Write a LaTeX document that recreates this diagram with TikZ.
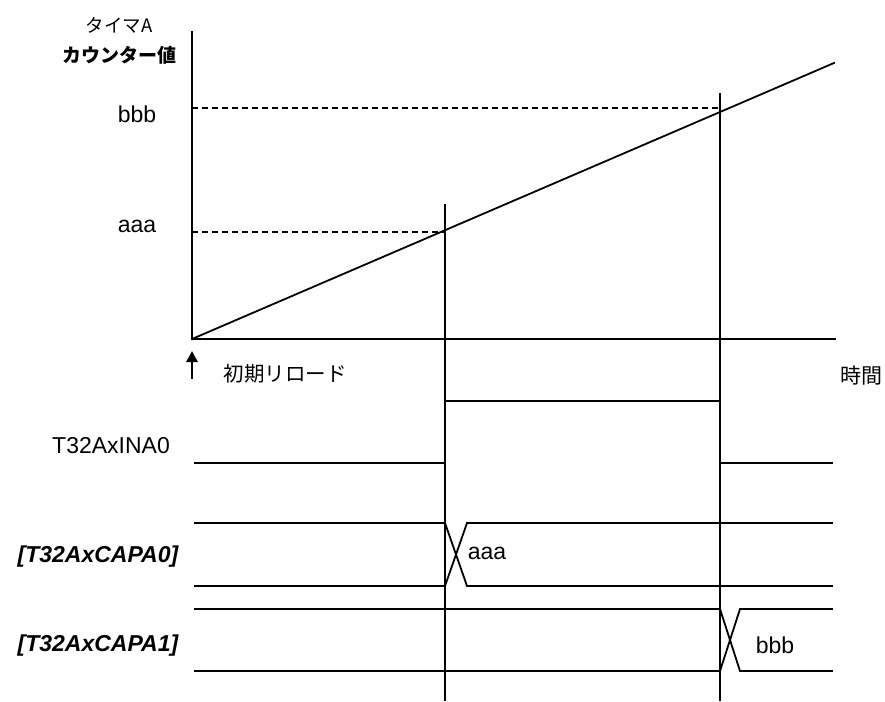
\documentclass[tikz,border=0pt]{standalone}
\usepackage{fontspec}
\setmainfont{Liberation Sans}
\newfontfamily\cjk{Noto Sans CJK JP}
\usetikzlibrary{arrows.meta}
\tikzset{
  ln/.style={line width=1.8pt, line cap=rect},
  dsh/.style={line width=1.5pt, dash pattern=on 6pt off 4pt},
  lat/.style={inner sep=0pt, font=\fontsize{23}{27}\selectfont},
  latbi/.style={inner sep=0pt, font=\fontsize{23}{27}\selectfont\bfseries\itshape},
  jp/.style={inner sep=0pt, font=\fontsize{18.5}{22}\selectfont\cjk},
}
\begin{document}
\begin{tikzpicture}[x=1pt,y=-1pt]
\useasboundingbox (0,0) rectangle (885,701);
% coordinates
\coordinate (O) at (192,339);
\coordinate (Ytop) at (192,32);
\coordinate (Xend) at (835,339);
\coordinate (Rend) at (834,63);
\coordinate (A) at (445,232);
\coordinate (B) at (720,109);
% axes
\draw[ln] (Ytop) -- (O) -- (Xend);
\draw[ln] (O) -- (Rend);
% dashed levels
\draw[dsh] (O |- A) -- (A);
\draw[dsh] (192,108) -- (720,108);
% verticals
\draw[line width=1.5pt] (445,204) -- (445,701);
\draw[line width=1.5pt] (720,93) -- (720,701);
% labels top
\node[jp] (tA) at (119,25) {タイマA};
\node[jp, font=\fontsize{19}{22}\selectfont\cjk\bfseries] (cnt) at (119,55) {カウンター値};
\node[lat, anchor=base] (lb) at (137,122) {bbb};
\node[lat, anchor=base] (la) at (137,232) {aaa};
% reload arrow
\coordinate (arS) at (192,379);
\coordinate (arE) at (192,351);
\draw[line width=2.8pt, -{Triangle[length=11pt,width=11pt]}] (arS) -- (arE);
\node[jp, font=\fontsize{20.5}{24}\selectfont\cjk] (rl) at (285,374) {初期リロード};
\node[jp, font=\fontsize{21}{24}\selectfont\cjk] (tm) at (861,376) {時間};
% INA0
\node[lat, anchor=base] (ina) at (111,453) {T32AxINA0};
\draw[ln] (195,463) -- (445,463) -- (445,401) -- (720,401) -- (720,463) -- (832,463);
% CAPA0
\node[latbi] (c0) at (98,557) {[T32AxCAPA0]};
\draw[ln] (195,523) -- (445,523) -- (467,586) -- (832,586);
\draw[ln] (195,586) -- (445,586) -- (467,523) -- (832,523);
\node[lat] (v0) at (487,553) {aaa};
% CAPA1
\node[latbi] (c1) at (98,646) {[T32AxCAPA1]};
\draw[ln] (195,609) -- (720,609) -- (740,671) -- (832,671);
\draw[ln] (195,671) -- (720,671) -- (740,609) -- (832,609);
\node[lat] (v1) at (775,645) {bbb};
\end{tikzpicture}
\end{document}
